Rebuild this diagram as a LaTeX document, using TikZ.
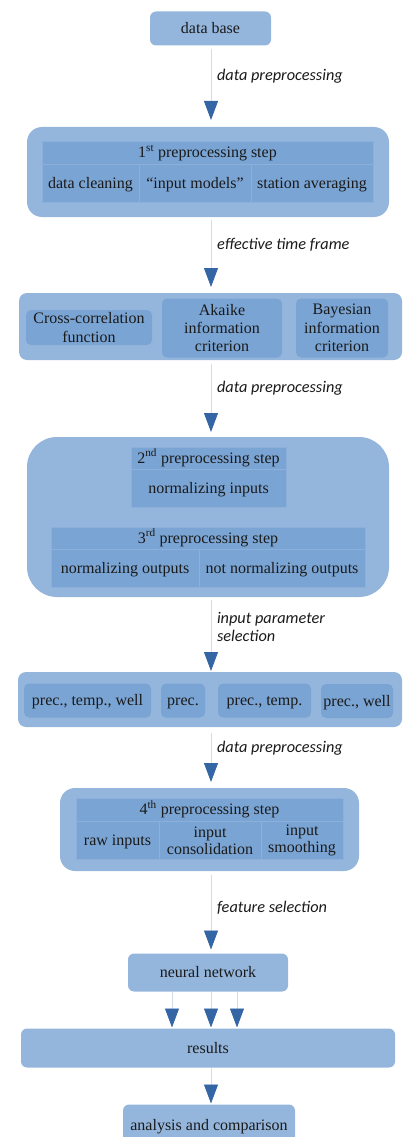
\documentclass[tikz,border=0pt]{standalone}
\usepackage{fontspec}
\setmainfont{Liberation Serif}
\newfontfamily\lblfont{Carlito}
\usetikzlibrary{arrows.meta}
\definecolor{outerc}{HTML}{95B6DC}
\definecolor{innerc}{HTML}{7AA4D3}
\definecolor{gridc}{HTML}{8DB0DA}
\definecolor{linec}{HTML}{D3DDE9}
\definecolor{arrc}{HTML}{3465A4}
\definecolor{txtc}{HTML}{1A1A1A}
\tikzset{
  every node/.style={text=txtc, font=\fontsize{16}{18.3}\selectfont, inner sep=0pt, outer sep=0pt},
  outerbox/.style={fill=outerc, draw=none, rounded corners=#1},
  outerbox/.default=6,
  innerbox/.style={fill=innerc, draw=none, rounded corners=5},
  cell/.style={fill=innerc, draw=gridc, line width=0.5pt, align=center},
  oneline/.style={text height=12.5pt, text depth=2pt},
  lbl/.style={anchor=west, font=\lblfont\itshape\fontsize{16.3}{18}\selectfont, align=left},
  arr/.style={draw=linec, line width=0.8pt, -{Triangle[width=14pt,length=19pt,color=arrc]}},
}
\begin{document}
\begin{tikzpicture}[x=1pt,y=-1pt]
\useasboundingbox (0,0) rectangle (403,1137);
\clip (0,0) rectangle (403,1137);
% data base
\node[outerbox, oneline, minimum width=121, minimum height=34] (db) at (210.5,28.5) {data base};
% 1st step
\node[outerbox=15, minimum width=362, minimum height=90] (s1) at (208,172) {};
\node[cell, oneline, minimum width=331, minimum height=23] (h1) at (207.5,152.5) {1\textsuperscript{st} preprocessing step};
\node[cell, oneline, minimum width=97, minimum height=38] (c11) at (90.5,183.5) {data cleaning};
\node[cell, oneline, minimum width=112, minimum height=38] (c12) at (195,183.5) {``input models''};
\node[cell, oneline, minimum width=122, minimum height=38] (c13) at (312,183.5) {station averaging};
% criteria
\node[outerbox=8, minimum width=383, minimum height=67] (s2) at (210.5,326.5) {};
\node[innerbox, minimum width=126, minimum height=35, align=center] (cc) at (89,327.5) {Cross-correlation\\function};
\node[innerbox, minimum width=120, minimum height=59, align=center] (ak) at (222,328) {Akaike\\information\\criterion};
\node[innerbox, minimum width=92, minimum height=59, align=center] (by) at (342,328) {Bayesian\\information\\criterion};
% 2nd and 3rd step
\node[outerbox=30, minimum width=362, minimum height=160] (s3) at (208,517) {};
\node[cell, oneline, minimum width=155, minimum height=22] (h2) at (208.5,458) {2\textsuperscript{nd} preprocessing step};
\node[cell, oneline, minimum width=155, minimum height=38] (c21) at (208.5,488.5) {normalizing inputs};
\node[cell, oneline, minimum width=314, minimum height=22] (h3) at (208,538) {3\textsuperscript{rd} preprocessing step};
\node[cell, oneline, minimum width=148, minimum height=38] (c31) at (125,568.5) {normalizing outputs};
\node[cell, oneline, minimum width=166, minimum height=38] (c32) at (282,568.5) {not normalizing outputs};
% input parameter sets
\node[outerbox=8, minimum width=384, minimum height=55] (s4) at (210,699.5) {};
\node[innerbox, oneline, minimum width=127, minimum height=34] (p1) at (87.5,700.5) {prec., temp., well};
\node[innerbox, oneline, minimum width=44, minimum height=34] (p2) at (183,700.5) {prec.};
\node[innerbox, oneline, minimum width=93, minimum height=34] (p3) at (264.5,700.5) {prec., temp.};
\node[innerbox, oneline, minimum width=72, minimum height=34] (p4) at (357,701) {prec., well};
% 4th step
\node[outerbox=15, minimum width=299, minimum height=83] (s5) at (209.5,829.5) {};
\node[cell, oneline, minimum width=267, minimum height=23] (h4) at (209.5,809.5) {4\textsuperscript{th} preprocessing step};
\node[cell, oneline, minimum width=83, minimum height=38] (c41) at (117.5,840.5) {raw inputs};
\node[cell, minimum width=102, minimum height=38] (c42) at (210,840.5) {input\\[-1.5pt]consolidation};
\node[cell, minimum width=82, minimum height=38] (c43) at (302,840.5) {input\\[-1.5pt]smoothing};
% neural network, results, analysis
\node[outerbox, oneline, minimum width=160, minimum height=38] (nn) at (208,972.5) {neural network};
\node[outerbox, oneline, minimum width=374, minimum height=39] (res) at (208,1048) {results};
\node[outerbox, oneline, minimum width=172, minimum height=42] (an) at (209,1125.5) {analysis and comparison};
% connectors
\coordinate (ax) at (211,0);
\draw[arr, shorten <=4pt, shorten >=7pt] (db.south -| ax) -- (s1.north -| ax);
\draw[arr, shorten <=3pt, shorten >=6pt] (s1.south -| ax) -- (s2.north -| ax);
\draw[arr, shorten <=4pt, shorten >=5pt] (s2.south -| ax) -- (s3.north -| ax);
\draw[arr, shorten <=3pt, shorten >=1pt] (s3.south -| ax) -- (s4.north -| ax);
\draw[arr, shorten <=6pt, shorten >=6pt] (s4.south -| ax) -- (s5.north -| ax);
\draw[arr, shorten <=4pt, shorten >=4pt] (s5.south -| ax) -- (nn.north -| ax);
\coordinate (n1) at (172,0);
\coordinate (n3) at (237,0);
\draw[arr, shorten >=1pt] (nn.south -| n1) -- (res.north -| n1);
\draw[arr, shorten >=1pt] (nn.south -| ax) -- (res.north -| ax);
\draw[arr, shorten >=1pt] (nn.south -| n3) -- (res.north -| n3);
\draw[arr, shorten >=1pt] (res.south -| ax) -- (an.north -| ax);
% labels
\node[lbl] (l1) at (217,76) {data preprocessing};
\node[lbl] (l2) at (217,245) {effective time frame};
\node[lbl] (l3) at (217,388) {data preprocessing};
\node[lbl] (l4) at (217,627) {input parameter\\selection};
\node[lbl] (l5) at (217,748) {data preprocessing};
\node[lbl] (l6) at (217,908) {feature selection};
\end{tikzpicture}
\end{document}
